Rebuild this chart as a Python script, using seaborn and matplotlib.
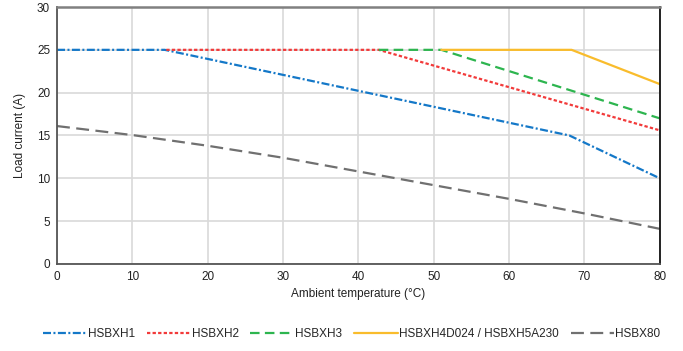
import matplotlib
matplotlib.use("Agg")
import matplotlib.pyplot as plt
import seaborn as sns
import pandas as pd

# ---- data ----
series_names = ["HSBXH1", "HSBXH2", "HSBXH3", "HSBXH4D024 / HSBXH5A230", "HSBX80"]

hsbxh1_x = [0, 14.3, 68, 80]
hsbxh1_y = [25, 25, 15.0, 10.0]

hsbxh2_x = [14.5, 42.7, 80]
hsbxh2_y = [25, 25, 15.6]

hsbxh3_x = [42.7, 51, 80]
hsbxh3_y = [25, 25, 17.0]

hsbxh4_x = [51, 68.3, 80]
hsbxh4_y = [25, 25, 21.0]

hsbx80_x = [0, 10, 20, 30, 40, 50, 60, 70, 80]
hsbx80_y = [16.1, 15.05, 13.8, 12.4, 10.8, 9.2, 7.6, 5.9, 4.1]

x_ticks = [0, 10, 20, 30, 40, 50, 60, 70, 80]
y_ticks = [0, 5, 10, 15, 20, 25, 30]

xs = [hsbxh1_x, hsbxh2_x, hsbxh3_x, hsbxh4_x, hsbx80_x]
ys = [hsbxh1_y, hsbxh2_y, hsbxh3_y, hsbxh4_y, hsbx80_y]
rows = []
for name, xx, yy in zip(series_names, xs, ys):
    for a, b in zip(xx, yy):
        rows.append({"series": name, "temp": a, "current": b})
df = pd.DataFrame(rows)

colors = {
    "HSBXH1": "#1478C8",
    "HSBXH2": "#F23A3A",
    "HSBXH3": "#2DB54F",
    "HSBXH4D024 / HSBXH5A230": "#F9BC2C",
    "HSBX80": "#707070",
}
dashes = {
    "HSBXH1": (3.6, 1.1, 0.9, 1.1),
    "HSBXH2": (1.5, 1.0),
    "HSBXH3": (4.3, 2.4),
    "HSBXH4D024 / HSBXH5A230": "",
    "HSBX80": (5.8, 2.9),
}

sns.set_theme(style="white")
plt.rcParams["font.family"] = ["Liberation Sans", "DejaVu Sans"]

fig = plt.figure(figsize=(6.83, 3.51), dpi=100)
ax = fig.add_axes([0.0835, 0.248, 0.8825, 0.732])

sns.lineplot(data=df, x="temp", y="current", hue="series", style="series",
             hue_order=series_names, style_order=series_names,
             palette=colors, dashes=dashes, linewidth=1.6, ax=ax,
             sort=False, estimator=None, legend=True)

ax.set_xlim(0, 80)
ax.set_ylim(0, 30)
ax.set_xticks(x_ticks)
ax.set_yticks(y_ticks)
ax.grid(True, color="#D9D9D9", linewidth=1.2)
ax.set_axisbelow(True)
ax.tick_params(axis="both", length=0, labelsize=8.5, colors="#222222", pad=5)
for s in ["left", "bottom"]:
    ax.spines[s].set_color("#555555")
    ax.spines[s].set_linewidth(1.3)
ax.spines["top"].set_color("#808080")
ax.spines["top"].set_linewidth(1.8)
ax.spines["right"].set_color("#111111")
ax.spines["right"].set_linewidth(1.3)

ax.set_xlabel("Ambient temperature (°C)", fontsize=8.5, color="#222222", labelpad=4)
ax.set_ylabel("Load current (A)", fontsize=8.5, color="#222222", labelpad=8)

handles, labels = ax.get_legend_handles_labels()
ax.get_legend().remove()
fig.legend(handles, labels, loc="center", bbox_to_anchor=(0.515, 0.048), ncol=5,
           frameon=False, fontsize=8.5, handlelength=3.7, handletextpad=0.1,
           columnspacing=1.0, borderpad=0)

fig.savefig("out.png", dpi=100)
